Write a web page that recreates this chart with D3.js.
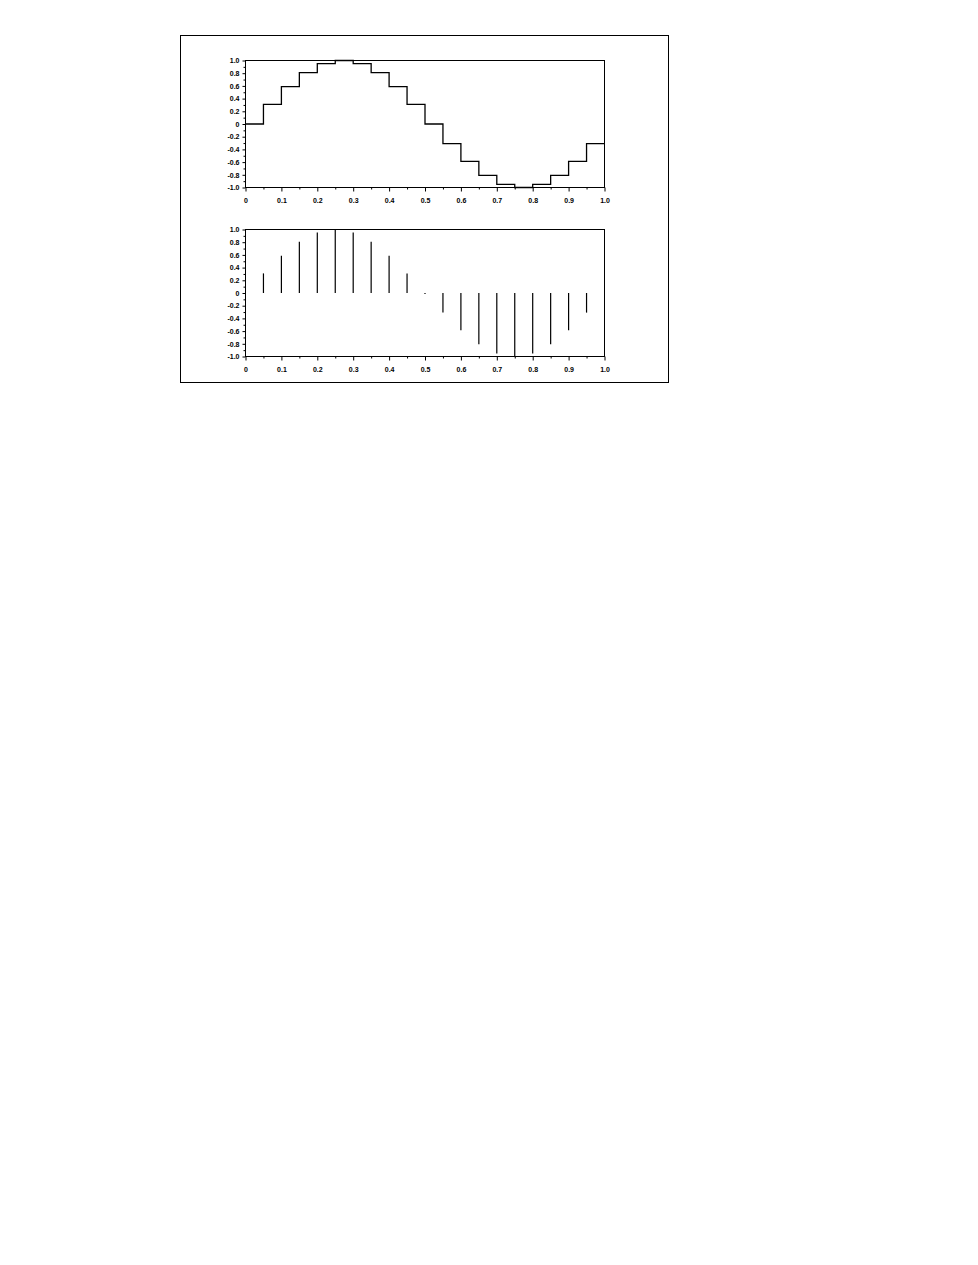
<!DOCTYPE html>
<html>
<head>
<meta charset="utf-8">
<script src="https://cdn.jsdelivr.net/npm/d3@7"></script>
<style>
  body { margin: 0; background: #fff; }
  .axis text { font-family: "Liberation Sans", Arial, sans-serif; font-size: 7px; font-weight: bold; fill: #000; }
  .axis line { stroke: #000; }
</style>
</head>
<body>
<svg id="chart" width="978" height="1265"></svg>
<script>
// sample times (step starts / stem positions)
var xs = [0, 0.05, 0.1, 0.15, 0.2, 0.25, 0.3, 0.35, 0.4, 0.45,
          0.5, 0.55, 0.6, 0.65, 0.7, 0.75, 0.8, 0.85, 0.9, 0.95];
var ys = [0, 0.309, 0.588, 0.809, 0.951, 1.0, 0.951, 0.809, 0.588, 0.309,
          0.0, -0.309, -0.588, -0.809, -0.951, -1.0, -0.951, -0.809, -0.588, -0.309];
var xEnd = 1.0;

var xMajor = [0, 0.1, 0.2, 0.3, 0.4, 0.5, 0.6, 0.7, 0.8, 0.9, 1.0];
var xMinor = [0.05, 0.15, 0.25, 0.35, 0.45, 0.55, 0.65, 0.75, 0.85, 0.95];
var yMajor = [-1.0, -0.8, -0.6, -0.4, -0.2, 0, 0.2, 0.4, 0.6, 0.8, 1.0];
var yMinor = [-0.9, -0.7, -0.5, -0.3, -0.1, 0.1, 0.3, 0.5, 0.7, 0.9];

var svg = d3.select("#chart");

// outer frame
svg.append("rect")
   .attr("x", 180.5).attr("y", 35.5)
   .attr("width", 488).attr("height", 347)
   .attr("fill", "none").attr("stroke", "#000").attr("stroke-width", 1);

var x = d3.scaleLinear().domain([0, 1]).range([245.5, 604.5]);

// plain hyphen for negatives, "0" without decimals
function fmt(d){
  if (d === 0) return "0";
  return d.toFixed(1);
}

function panel(top, bottom){
  var y = d3.scaleLinear().domain([-1, 1]).range([bottom, top]);
  var g = svg.append("g");

  // y axis
  g.append("g").attr("class", "axis")
   .attr("transform", "translate(" + x(0) + ",0)")
   .call(d3.axisLeft(y).tickValues(yMajor).tickSize(3).tickSizeOuter(0).tickPadding(3).tickFormat(fmt))
   .call(function(a){ a.select(".domain").remove(); });
  g.append("g").attr("class", "axis")
   .attr("transform", "translate(" + x(0) + ",0)")
   .call(d3.axisLeft(y).tickValues(yMinor).tickSize(2).tickFormat(""))
   .call(function(a){ a.select(".domain").remove(); });

  // x axis
  g.append("g").attr("class", "axis")
   .attr("transform", "translate(0," + y(-1) + ")")
   .call(d3.axisBottom(x).tickValues(xMajor).tickSize(4).tickPadding(7).tickFormat(fmt))
   .call(function(a){ a.select(".domain").remove(); });
  g.append("g").attr("class", "axis")
   .attr("transform", "translate(0," + y(-1) + ")")
   .call(d3.axisBottom(x).tickValues(xMinor).tickSize(2).tickFormat(""))
   .call(function(a){ a.select(".domain").remove(); });

  // plot box
  g.append("rect")
   .attr("x", x(0)).attr("y", y(1))
   .attr("width", x(1) - x(0)).attr("height", y(-1) - y(1))
   .attr("fill", "none").attr("stroke", "#000").attr("stroke-width", 1);

  return { g: g, y: y };
}

// ---- top: staircase
var p1 = panel(60.5, 187.5);
var stepPts = xs.map(function(d, i){ return [d, ys[i]]; });
stepPts.push([xEnd, ys[ys.length - 1]]);
var stair = d3.line()
  .x(function(d){ return x(d[0]); })
  .y(function(d){ return p1.y(d[1]); })
  .curve(d3.curveStepAfter);
p1.g.append("path")
  .attr("d", stair(stepPts))
  .attr("fill", "none").attr("stroke", "#000").attr("stroke-width", 1.3);

// ---- bottom: stems
var p2 = panel(229.5, 356.5);
p2.g.selectAll("line.stem")
  .data(xs.map(function(d, i){ return [d, ys[i]]; }).filter(function(d){ return d[0] > 0; }))
  .enter().append("line")
  .attr("class", "stem")
  .attr("x1", function(d){ return x(d[0]); })
  .attr("x2", function(d){ return x(d[0]); })
  .attr("y1", p2.y(0))
  .attr("y2", function(d){ return p2.y(d[1]) + (d[1] === 0 ? 1 : 0); })
  .attr("stroke", "#000").attr("stroke-width", 1.2);
</script>
</body>
</html>
